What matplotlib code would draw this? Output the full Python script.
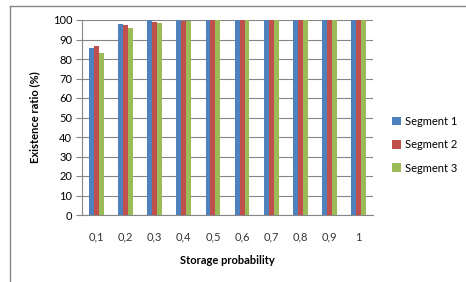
import matplotlib.pyplot as plt
import numpy as np

plt.rcParams['font.family'] = ['Lato', 'DejaVu Sans']

probs = ["0,1", "0,2", "0,3", "0,4", "0,5", "0,6", "0,7", "0,8", "0,9", "1"]
seg1 = [85.5, 98, 100, 100, 100, 100, 100, 100, 100, 100]
seg2 = [86.5, 97.5, 99, 99.5, 100, 100, 100, 100, 100, 100]
seg3 = [83, 96, 98.5, 99.3, 100, 100, 100, 100, 100, 100]
names = ["Segment 1", "Segment 2", "Segment 3"]
colors = ["#4F81BD", "#C0504D", "#9BBB59"]

fig = plt.figure(figsize=(4.66, 2.82), dpi=100)
ax = fig.add_axes([82/466, 1-215/282, 291/466, 195/282])

x = np.arange(len(probs))
w = 0.17
for i, (vals, nm, c) in enumerate(zip([seg1, seg2, seg3], names, colors)):
    ax.bar(x + (i-1)*w, vals, w, color=c, label=nm, zorder=3)

ax.set_xlim(-0.5, len(probs)-0.5)
ax.set_ylim(0, 100)
ax.set_yticks(range(0, 101, 10))
ax.set_xticks(x)
ax.set_xticklabels(probs)
ax.grid(axis='y', color='#868686', linewidth=0.8, zorder=0)
for s in ['top', 'right']:
    ax.spines[s].set_visible(False)
ax.spines['left'].set_color('#868686')
ax.spines['bottom'].set_color('#868686')
ax.tick_params(axis='y', length=4, color='#868686', labelsize=8, pad=3)
ax.tick_params(axis='x', length=0, labelsize=8, pad=12, labelcolor='#333333')

ax.set_xlabel("Storage probability", fontsize=8, fontweight='bold', labelpad=9)
ax.set_ylabel("Existence ratio (%)", fontsize=8, fontweight='bold', labelpad=9)

ax.legend(loc='center left', bbox_to_anchor=(1.03, 0.36), frameon=False,
          fontsize=8, handlelength=0.8, handleheight=0.8, labelspacing=1.1,
          handletextpad=0.4)

# outer chart frame (top and left edge visible)
fig.add_artist(plt.Line2D([10/466, 1], [1-6/282, 1-6/282], color='#888888', lw=1))
fig.add_artist(plt.Line2D([10/466, 10/466], [0, 1-6/282], color='#888888', lw=1))

fig.savefig("out.png", dpi=100)
